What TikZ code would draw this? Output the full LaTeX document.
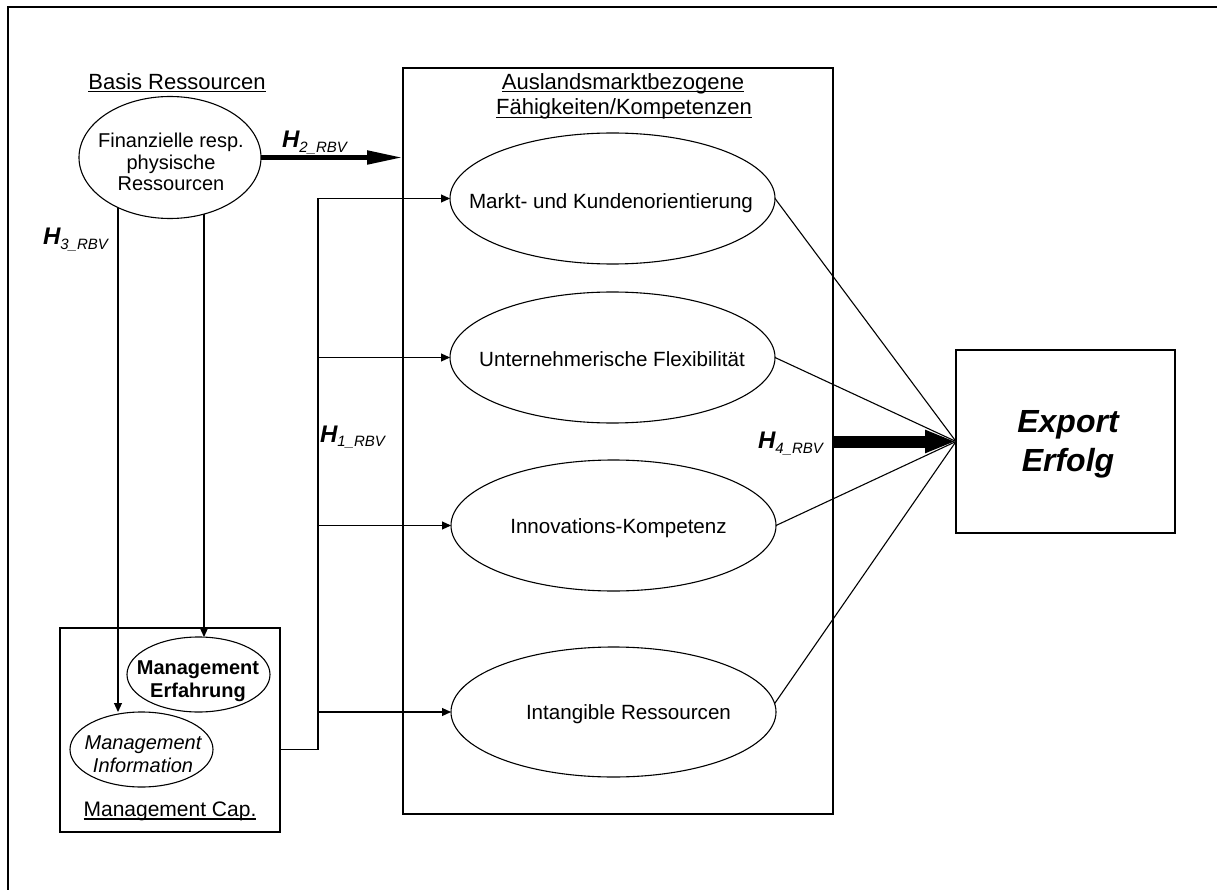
\documentclass[tikz,border=0pt]{standalone}
\usepackage{fontspec}
\setmainfont{Liberation Sans}
\usetikzlibrary{arrows.meta,shapes.geometric,calc}
\pgfdeclarelayer{background}
\pgfsetlayers{background,main}

% underline at a fixed depth below the baseline (descenders cross it)
\newsavebox{\ulbox}
\newcommand{\ulin}[1]{\sbox{\ulbox}{#1}\rlap{\rule[-3pt]{\wd\ulbox}{1.3pt}}\usebox{\ulbox}}
% hypothesis label H_{n_RBV}
\newcommand{\hyp}[1]{{\fontsize{24}{24}\selectfont\bfseries\itshape H}\raisebox{-4.5pt}{\fontsize{15}{15}\selectfont\itshape #1\_RBV}}

\begin{document}
\begin{tikzpicture}[x=1pt, y=-1pt,
  every node/.style={font=\fontsize{20.6}{21.5}\selectfont, inner sep=0pt, outer sep=0pt},
  oval/.style={draw, ellipse, fill=white, line width=1.1pt},
  box/.style={draw, line width=1.1pt},
  conn/.style={line width=1.1pt},
  arr/.style={conn, -{Triangle[length=9pt,width=8pt]}},
  boldarrow/.style={line width=5pt, -{Triangle[length=36pt,width=13pt]}},
  heavyarrow/.style={line width=12pt, -{Triangle[length=31pt,width=21pt]}},
  title/.style={font=\fontsize{22}{25}\selectfont, anchor=base},
  hyplabel/.style={anchor=base west},
]
\useasboundingbox (0,0) rectangle (1217,890);

% page frame (open to the right and bottom)
\draw[line width=2.5pt] (8,890) -- (8,7) -- (1217,7);

% containers
\node[box, minimum width=430pt, minimum height=746pt] (comp) at (618,441) {};
\node[box, minimum width=220pt, minimum height=204pt] (mcap) at (170,730) {};
\node[box, minimum width=219pt, minimum height=183pt] (export) at (1065.5,441.5) {};

% ellipses
\node[oval, minimum width=182pt, minimum height=122pt] (fin) at (170,157.5) {};
\node[oval, minimum width=325pt, minimum height=131pt] (markt) at (612.5,198.5) {};
\node[oval, minimum width=325pt, minimum height=131pt] (unter) at (612.5,357.5) {};
\node[oval, minimum width=325pt, minimum height=131pt] (innov) at (613.5,525.5) {};
\node[oval, minimum width=325pt, minimum height=130pt] (intang) at (613.5,712) {};
\node[oval, minimum width=143pt, minimum height=75pt] (erf) at (198.5,674.5) {};
\node[oval, minimum width=143pt, minimum height=75pt] (info) at (141.5,749.5) {};

% texts
\node[title] (basis-t) at (177,89.3) {\ulin{Basis Ressourcen}};
\node[title] (comp-t1) at (623,89.3) {\ulin{Auslandsmarktbezogene}};
\node[title] (comp-t2) at (624,115) {\ulin{Fähigkeiten/Kompetenzen}};
\node[anchor=base, font=\fontsize{21}{21}\selectfont] (mcap-t) at (170,816.7) {\ulin{Management Cap.}};
\node[align=center, font=\fontsize{20}{21.5}\selectfont] (fin-t) at (171,162) {Finanzielle resp.\\physische\\Ressourcen};
\node[anchor=base] (markt-t) at (611,209) {Markt- und Kundenorientierung};
\node[anchor=base] (unter-t) at (612,366) {Unternehmerische Flexibilität};
\node[anchor=base] (innov-t) at (618.5,533.3) {Innovations-Kompetenz};
\node[anchor=base] (intang-t) at (628.5,719.3) {Intangible Ressourcen};
\node[align=center, font=\fontsize{20}{23}\selectfont\bfseries] (erf-t) at (198,681) {Management\\Erfahrung};
\node[align=center, font=\fontsize{20}{23}\selectfont\itshape] (info-t) at (143,754.4) {Management\\Information};
\node[align=center, font=\fontsize{32}{39}\selectfont\bfseries\itshape] (export-t) at (1068,444) {Export\\Erfolg};

% hypothesis labels
\node[hyplabel] (h1) at (320,442) {\hyp{1}};
\node[hyplabel] (h2) at (282,148) {\hyp{2}};
\node[hyplabel] (h3) at (43,245) {\hyp{3}};
\node[hyplabel] (h4) at (758,448.5) {\hyp{4}};

% helper x-positions of vertical connector runs
\coordinate (h3x) at (118,0);
\coordinate (exx) at (204,0);
\coordinate (trunk) at (318,0);

% base resources down to management capabilities (start hidden under the ellipse)
\begin{pgfonlayer}{background}
  \draw[arr] (fin -| h3x) -- (info.north -| h3x);
  \draw[arr] (fin -| exx) -- (erf.north -| exx);
\end{pgfonlayer}

% management capabilities to the four competences
\draw[arr] (info -| mcap.east) -| (markt -| trunk) -- (markt.west);
\draw[arr] (unter -| trunk) -- (unter.west);
\draw[arr] (innov -| trunk) -- (innov.west);
\draw[arr] (intang -| trunk) -- (intang.west);

% competences to export success
\draw[conn] (markt.east) -- (export.west);
\draw[conn] (unter.east) -- (export.west);
\draw[conn] (innov.east) -- (export.west);
\draw[conn] (intang.3) -- (export.west);

% main hypothesis arrows
\draw[boldarrow] (fin.east) -- (fin -| comp.west);
\draw[heavyarrow] (comp.east |- export) -- (export.west);
\end{tikzpicture}
\end{document}
